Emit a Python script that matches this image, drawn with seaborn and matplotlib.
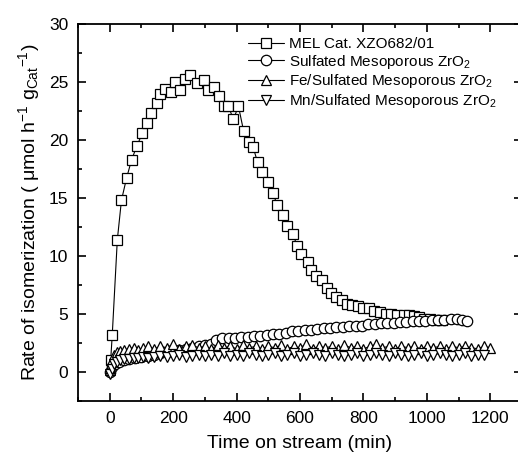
import matplotlib
matplotlib.use("Agg")
import matplotlib.pyplot as plt
from matplotlib.ticker import MultipleLocator
import seaborn as sns

# data
t_mel = [3, 8, 24, 37, 53, 69, 86, 103, 116, 130, 148, 158, 175, 192, 206, 222, 237, 253,
         274, 297, 311, 329, 346, 359, 374, 390, 406, 422, 438, 452, 466, 480, 499, 514,
         529, 545, 559, 577, 591, 604, 625, 636, 652, 668, 684, 699, 715, 731, 747, 765,
         783, 800, 817, 833, 852, 870, 888, 906, 927, 943, 960, 975, 991, 1010, 1030, 1049]
v_mel = [1.0, 3.2, 11.4, 14.8, 16.7, 18.3, 19.5, 20.6, 21.5, 22.3, 23.2, 24.0, 24.4, 24.1,
         25.0, 24.3, 25.3, 25.6, 24.9, 25.2, 24.3, 24.6, 23.8, 22.9, 22.9, 21.8, 22.9, 20.8,
         19.8, 19.4, 18.1, 17.2, 16.4, 15.4, 14.4, 13.5, 12.6, 11.9, 10.9, 10.2, 9.5, 8.8,
         8.3, 7.9, 7.2, 6.8, 6.5, 6.2, 5.9, 5.8, 5.7, 5.5, 5.5, 5.3, 5.2, 5.0, 5.0, 4.9,
         4.9, 4.9, 4.8, 4.7, 4.6, 4.6, 4.5, 4.5]

t_sz = [0, 8, 16, 28, 45, 60, 80, 100, 120, 140, 160, 180, 200, 220, 240, 260, 280, 300,
        320, 335, 355, 375, 395, 415, 435, 455, 475, 495, 515, 535, 555, 575, 595, 615,
        635, 655, 675, 695, 715, 735, 755, 775, 795, 815, 835, 855, 875, 895, 915, 935,
        955, 975, 995, 1015, 1035, 1055, 1075, 1095, 1110, 1128]
v_sz = [0.0, 0.4, 0.7, 0.9, 1.0, 1.1, 1.2, 1.3, 1.4, 1.5, 1.6, 1.7, 1.8, 1.9, 2.0, 2.1,
        2.2, 2.3, 2.4, 2.8, 2.9, 2.9, 2.9, 3.0, 3.0, 3.1, 3.1, 3.2, 3.3, 3.3, 3.4, 3.5,
        3.5, 3.6, 3.6, 3.7, 3.8, 3.8, 3.9, 3.9, 4.0, 4.0, 4.0, 4.1, 4.1, 4.2, 4.2, 4.2,
        4.3, 4.3, 4.4, 4.4, 4.4, 4.5, 4.5, 4.5, 4.6, 4.6, 4.5, 4.4]

t_fe = [0, 6, 14, 22, 32, 45, 60, 75, 90, 105, 120, 140, 160, 180, 200, 220, 240, 260,
        280, 300, 320, 340, 360, 380, 400, 420, 440, 460, 480, 500, 520, 540, 560, 580,
        600, 620, 640, 660, 680, 700, 720, 740, 760, 780, 800, 820, 840, 860, 880, 900,
        920, 940, 960, 980, 1000, 1020, 1040, 1060, 1080, 1100, 1120, 1140, 1160, 1180, 1200]
v_fe = [0.2, 1.0, 1.5, 1.7, 1.8, 1.9, 2.0, 2.1, 1.9, 2.1, 2.2, 2.0, 2.2, 2.1, 2.4, 2.0,
        2.2, 2.3, 2.1, 2.2, 2.0, 2.3, 2.1, 2.2, 2.0, 2.3, 2.1, 2.2, 2.0, 2.2, 2.1, 2.3,
        2.0, 2.2, 2.1, 2.4, 2.0, 2.2, 2.1, 2.2, 2.0, 2.3, 2.1, 2.2, 2.0, 2.2, 2.4, 2.1,
        2.2, 2.0, 2.2, 2.1, 2.2, 2.0, 2.2, 2.1, 2.2, 2.0, 2.2, 2.1, 2.2, 2.1, 2.0, 2.2, 2.1]

t_mn = [0, 6, 14, 22, 32, 45, 60, 75, 90, 105, 120, 140, 160, 180, 200, 220, 240, 260,
        280, 300, 320, 340, 360, 380, 400, 420, 440, 460, 480, 500, 520, 540, 560, 580,
        600, 620, 640, 660, 680, 700, 720, 740, 760, 780, 800, 820, 840, 860, 880, 900,
        920, 940, 960, 980, 1000, 1020, 1040, 1060, 1080, 1100, 1120, 1140, 1160, 1180]
v_mn = [-0.2, 0.3, 0.7, 0.9, 1.0, 1.1, 1.1, 1.2, 1.2, 1.3, 1.2, 1.3, 1.4, 1.3, 1.4, 1.5,
        1.3, 1.4, 1.5, 1.4, 1.5, 1.4, 1.6, 1.4, 1.5, 1.4, 1.6, 1.5, 1.4, 1.5, 1.6, 1.4,
        1.5, 1.6, 1.4, 1.5, 1.6, 1.5, 1.4, 1.6, 1.5, 1.4, 1.5, 1.6, 1.4, 1.5, 1.6, 1.5,
        1.4, 1.6, 1.5, 1.4, 1.5, 1.6, 1.4, 1.5, 1.6, 1.5, 1.4, 1.5, 1.6, 1.4, 1.5, 1.5]

labels = ["MEL Cat. XZO682/01",
          "Sulfated Mesoporous ZrO$_2$",
          "Fe/Sulfated Mesoporous ZrO$_2$",
          "Mn/Sulfated Mesoporous ZrO$_2$"]

sns.set_style("ticks")
plt.rcParams["font.family"] = ["Liberation Sans", "DejaVu Sans"]
plt.rcParams["mathtext.fontset"] = "custom"
plt.rcParams["mathtext.rm"] = "Liberation Sans"
plt.rcParams["mathtext.it"] = "Liberation Sans:italic"
for k in ["text.color", "axes.labelcolor", "xtick.color", "ytick.color", "axes.edgecolor"]:
    plt.rcParams[k] = "black"

fig = plt.figure(figsize=(5.18, 4.59), dpi=100)
ax = fig.add_axes([78 / 518, 1 - 401 / 459, 444 / 518, 377 / 459])

series = [(t_mel, v_mel, "s"), (t_sz, v_sz, "o"), (t_fe, v_fe, "^"), (t_mn, v_mn, "v")]
for (t, v, m), lab in zip(series, labels):
    sns.lineplot(x=t, y=v, ax=ax, estimator=None, sort=False, color="black", lw=0.8,
                 marker=m, markersize=7.5, markerfacecolor="white", markeredgecolor="black",
                 markeredgewidth=0.9, label=lab)

ax.set_xlim(-100, 1300)
ax.set_ylim(-2.5, 30)
ax.xaxis.set_major_locator(MultipleLocator(200))
ax.xaxis.set_minor_locator(MultipleLocator(100))
ax.yaxis.set_major_locator(MultipleLocator(5))
ax.yaxis.set_minor_locator(MultipleLocator(2.5))
ax.set_xticks([0, 200, 400, 600, 800, 1000, 1200])
ax.tick_params(which="both", direction="in", top=True, right=True, labelsize=12.5, width=1.2)
ax.tick_params(which="major", length=6, pad=7)
ax.tick_params(which="minor", length=3)
for s in ax.spines.values():
    s.set_linewidth(1.3)

ax.set_xlabel("Time on stream (min)", fontsize=14, labelpad=7)
ax.set_ylabel("Rate of isomerization ( μmol h$^{-1}$ g$_{\\mathrm{Cat}}$$^{-1}$)",
              fontsize=14, labelpad=5)

ax.legend(loc="upper left", bbox_to_anchor=(0.365, 0.985), frameon=False, fontsize=11,
          borderpad=0, handlelength=2.4, handletextpad=0.3, labelspacing=0.1)

fig.savefig("out.png", dpi=100)
